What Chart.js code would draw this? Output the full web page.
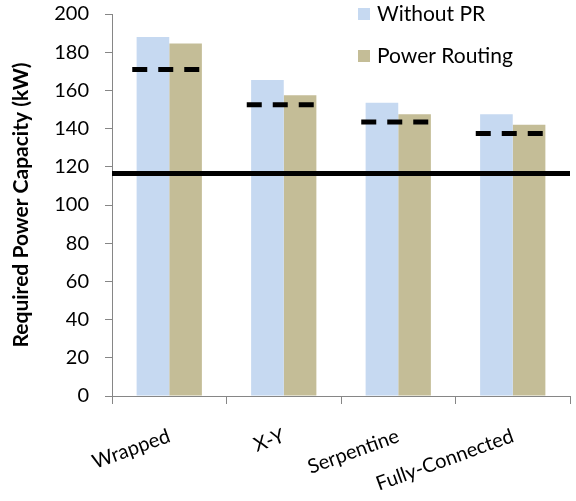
<!DOCTYPE html>
<html>
<head>
<meta charset="utf-8">
<script src="https://cdn.jsdelivr.net/npm/chart.js@4.4.1/dist/chart.umd.min.js"></script>
<style>
  html, body { margin: 0; padding: 0; background: #fff; }
</style>
</head>
<body>
<canvas id="powerChart" width="576" height="501"></canvas>
<script>
// data
const categories = ['Wrapped', 'X-Y', 'Serpentine', 'Fully-Connected'];
const withoutPR = [188, 165.5, 153.5, 147.5];
const powerRouting = [184.5, 157.5, 147.5, 142];
const dashedLevels = [171, 152.5, 143.5, 137.5];   // black dashed marks per group
const baselineLevel = 116.5;                        // solid black line
const yTicks = [0, 20, 40, 60, 80, 100, 120, 140, 160, 180, 200];

const FONT = 'Lato, "Open Sans", sans-serif';
const axisGray = '#868686';

// dashed marks + solid line, drawn over the bars
const refLines = {
  id: 'refLines',
  afterDatasetsDraw(chart) {
    const ctx = chart.ctx;
    const x = chart.scales.x, y = chart.scales.y;
    const area = chart.chartArea;
    ctx.save();
    ctx.strokeStyle = '#000';
    ctx.lineWidth = 5;
    ctx.setLineDash([15, 11]);
    dashedLevels.forEach((v, i) => {
      const cx = x.getPixelForValue(i) - 3;
      const py = y.getPixelForValue(v);
      ctx.beginPath();
      ctx.moveTo(cx - 34, py);
      ctx.lineTo(cx + 34, py);
      ctx.stroke();
    });
    ctx.setLineDash([]);
    const by = y.getPixelForValue(baselineLevel);
    ctx.beginPath();
    ctx.moveTo(area.left, by);
    ctx.lineTo(area.right, by);
    ctx.stroke();
    ctx.restore();
  }
};

// legend sits inside the plot, top right
const innerLegend = {
  id: 'innerLegend',
  afterDraw(chart) {
    const ctx = chart.ctx;
    ctx.save();
    ctx.font = '21px ' + FONT;
    ctx.textBaseline = 'middle';
    chart.data.datasets.forEach((ds, i) => {
      const top = 8 + i * 42;
      ctx.fillStyle = ds.backgroundColor;
      ctx.fillRect(358, top, 12, 12);
      ctx.fillStyle = '#000';
      ctx.fillText(ds.label, 377, top + 6);
    });
    ctx.restore();
  }
};

const ctx = document.getElementById('powerChart').getContext('2d');
new Chart(ctx, {
  type: 'bar',
  data: {
    labels: categories,
    datasets: [
      { label: 'Without PR', data: withoutPR, backgroundColor: '#c6d9f1' },
      { label: 'Power Routing', data: powerRouting, backgroundColor: '#c4bd97' }
    ]
  },
  options: {
    responsive: false,
    animation: false,
    layout: { padding: { top: 14, right: 6, left: 0, bottom: 0 } },
    datasets: { bar: { categoryPercentage: 0.57, barPercentage: 1.0 } },
    plugins: { legend: { display: false }, tooltip: { enabled: false } },
    scales: {
      x: {
        afterFit(scale) { scale.height = 105; },
        grid: { display: true, drawOnChartArea: false, drawTicks: true, tickLength: 8, color: axisGray, offset: true },
        border: { color: axisGray, width: 1 },
        ticks: {
          color: '#000',
          font: { family: FONT, size: 20 },
          minRotation: 20,
          maxRotation: 20,
          padding: 20
        }
      },
      y: {
        min: 0,
        max: 200,
        afterFit(scale) {
          scale.width = 112;
          // tick padding is horizontal only here; drop the extra vertical room
          scale.paddingTop = 0;
          scale.paddingBottom = 0;
        },
        afterBuildTicks(scale) { scale.ticks = yTicks.map(v => ({ value: v })); },
        grid: { display: true, drawOnChartArea: false, drawTicks: true, tickLength: 7, color: axisGray },
        border: { color: axisGray, width: 1 },
        ticks: {
          color: '#000',
          font: { family: FONT, size: 20 },
          padding: 16
        },
        title: {
          display: true,
          text: 'Required Power Capacity (kW)',
          color: '#000',
          font: { family: FONT, size: 21, weight: 'bold' },
          padding: { top: 9, bottom: 0 }
        }
      }
    }
  },
  plugins: [refLines, innerLegend]
});
</script>
</body>
</html>
